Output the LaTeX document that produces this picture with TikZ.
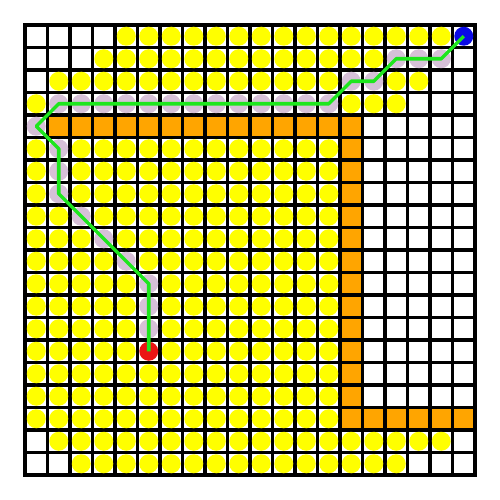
\documentclass[tikz,border=0pt]{standalone}
\definecolor{cellyellow}{RGB}{255,255,0}
\definecolor{cellorange}{RGB}{255,165,0}
\definecolor{celllilac}{RGB}{214,192,216}
\definecolor{pathgreen}{RGB}{30,230,30}
\definecolor{startred}{RGB}{235,20,20}
\definecolor{goalblue}{RGB}{10,10,230}
\tikzset{
  dot/.style={circle,inner sep=0pt,minimum size=0.76cm,draw=none},
  yel/.style={dot,fill=cellyellow},
  vis/.style={dot,fill=celllilac},
  startdot/.style={dot,fill=startred},
  goaldot/.style={dot,fill=goalblue},
  wall/.style={fill=cellorange},
  gridline/.style={line width=3.6pt,black},
  route/.style={line width=4pt,pathgreen,line join=round}
}
\begin{document}
\begin{tikzpicture}[x=0.9cm,y=0.9cm]
\useasboundingbox[fill=white] (-1.1111,1.1111) rectangle (21.1111,-21.1111);
% walls
\fill[wall] (1,-4) rectangle (15,-5);
\fill[wall] (14,-5) rectangle (15,-17);
\fill[wall] (14,-17) rectangle (20,-18);
% grid
\foreach \i in {1,...,19} {
  \draw[gridline] (\i,0) -- (\i,-20);
  \draw[gridline] (0,-\i) -- (20,-\i);
}
\draw[gridline,line cap=rect] (0,0) rectangle (20,-20);
% open cells
\foreach \r/\a/\b in {0/4/18,1/3/15,2/1/13,2/16/17,3/0/0,3/14/16,
  5/0/0,5/2/13,6/0/0,6/2/13,7/0/0,7/2/13,8/0/1,8/3/13,9/0/2,9/4/13,
  10/0/3,10/5/13,11/0/4,11/6/13,12/0/4,12/6/13,13/0/4,13/6/13,14/0/4,14/6/13,
  15/0/13,16/0/13,17/0/13,18/1/18,19/2/16}
  \foreach \c in {\a,...,\b}
    \node[yel] (c-\c-\r) at (\c+0.5,-\r-0.5) {};
% visited cells
\foreach \c/\r in {18/1,17/1,16/1,15/2,14/2,13/3,12/3,11/3,10/3,9/3,8/3,7/3,6/3,5/3,4/3,3/3,2/3,1/3,
  0/4,1/5,1/6,1/7,2/8,3/9,4/10,5/11,5/12,5/13}
  \node[vis] (c-\c-\r) at (\c+0.5,-\r-0.5) {};
\node[goaldot] (c-19-0) at (19.5,-0.5) {};
\node[startdot] (c-5-14) at (5.5,-14.5) {};
% route
\draw[route] (c-19-0.center) -- (c-18-1.center) -- (c-16-1.center) -- (c-15-2.center)
  -- (c-14-2.center) -- (c-13-3.center) -- (c-1-3.center) -- (c-0-4.center)
  -- (c-1-5.center) -- (c-1-7.center) -- (c-5-11.center) -- (c-5-14.center);
\end{tikzpicture}
\end{document}
